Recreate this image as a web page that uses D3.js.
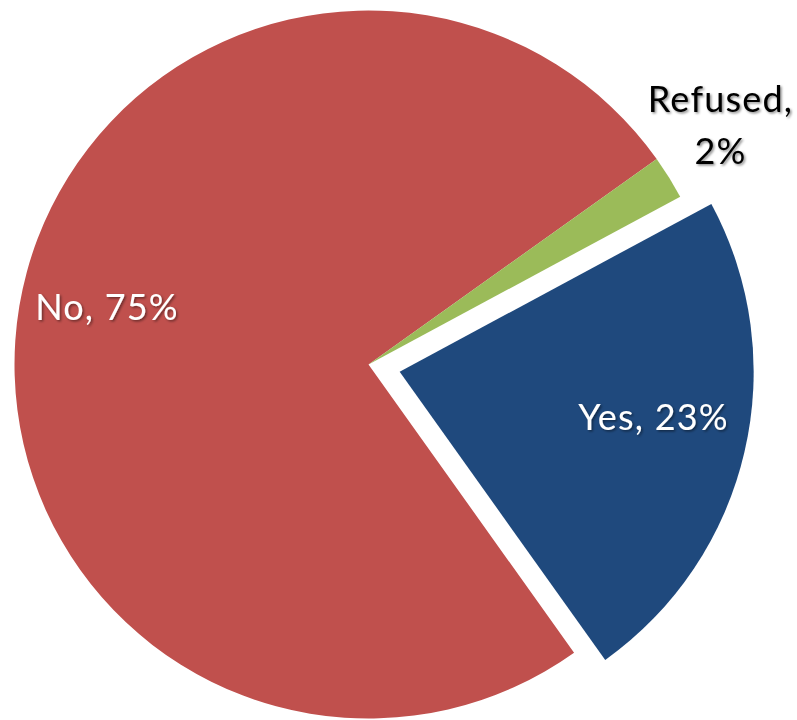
<!DOCTYPE html>
<html>
<head>
<meta charset="utf-8">
<script src="https://cdn.jsdelivr.net/npm/d3@7"></script>
<style>
  html, body { margin: 0; padding: 0; background: #fff; }
  svg { display: block; }
  text { font-family: Lato, "Open Sans", sans-serif; }
</style>
</head>
<body>
<svg id="chart" width="797" height="720"></svg>
<script>
// Survey answers, in drawing order (clockwise from the start angle)
const categories = ["Yes", "No", "Refused"];
const shares = [23, 75, 2];
const colors = ["#1F497D", "#C0504D", "#9BBB59"];
const exploded = [true, false, false];

const width = 797, height = 720;
const cx = 368.5, cy = 364.5, radius = 354;
const explodeDist = 32;
const startDeg = 61.7;

const svg = d3.select("#chart");

// soft shadow behind the data labels
const defs = svg.append("defs");
const f = defs.append("filter").attr("id", "lblShadow")
  .attr("x", "-10%").attr("y", "-10%").attr("width", "130%").attr("height", "140%");
f.append("feDropShadow").attr("dx", 1.5).attr("dy", 1.5).attr("stdDeviation", 1)
  .attr("flood-color", "#000").attr("flood-opacity", 0.45);

const data = categories.map((c, i) => ({ cat: c, value: shares[i], color: colors[i], explode: exploded[i] }));

const pie = d3.pie()
  .sort(null)
  .value(d => d.value)
  .startAngle(startDeg * Math.PI / 180)
  .endAngle(startDeg * Math.PI / 180 + 2 * Math.PI);

const arc = d3.arc().innerRadius(0).outerRadius(radius);
const arcs = pie(data);

const g = svg.append("g").attr("transform", `translate(${cx},${cy})`);

function offset(d) {
  if (!d.data.explode) return [0, 0];
  const mid = (d.startAngle + d.endAngle) / 2;
  return [Math.sin(mid) * explodeDist, -Math.cos(mid) * explodeDist];
}

g.selectAll("path.slice")
  .data(arcs)
  .join("path")
  .attr("class", "slice")
  .attr("d", arc)
  .attr("fill", d => d.data.color)
  .attr("transform", d => `translate(${offset(d)})`);

// label placements (relative to pie centre, first baseline) and colours
const labelPos = {
  "Yes": { x: 285, y: 65.5, fill: "#fff", lines: ["Yes, " + shares[0] + "%"] },
  "No": { x: -261.5, y: -44.5, fill: "#fff", lines: ["No, " + shares[1] + "%"] },
  "Refused": { x: 352, y: -253, fill: "#000", lines: ["Refused,", shares[2] + "%"] }
};

const labels = g.selectAll("text.lbl")
  .data(arcs)
  .join("text")
  .attr("class", "lbl")
  .attr("text-anchor", "middle")
  .attr("font-size", 36)
  .attr("letter-spacing", 1.2)
  .attr("fill", d => labelPos[d.data.cat].fill)
  .attr("filter", "url(#lblShadow)")
  .attr("transform", d => `translate(${labelPos[d.data.cat].x},${labelPos[d.data.cat].y})`);

labels.each(function(d) {
  const lines = labelPos[d.data.cat].lines;
  const t = d3.select(this);
  lines.forEach((ln, i) => {
    t.append("tspan")
      .attr("x", 0)
      .attr("y", i * 52)
      .text(ln);
  });
});
</script>
</body>
</html>
